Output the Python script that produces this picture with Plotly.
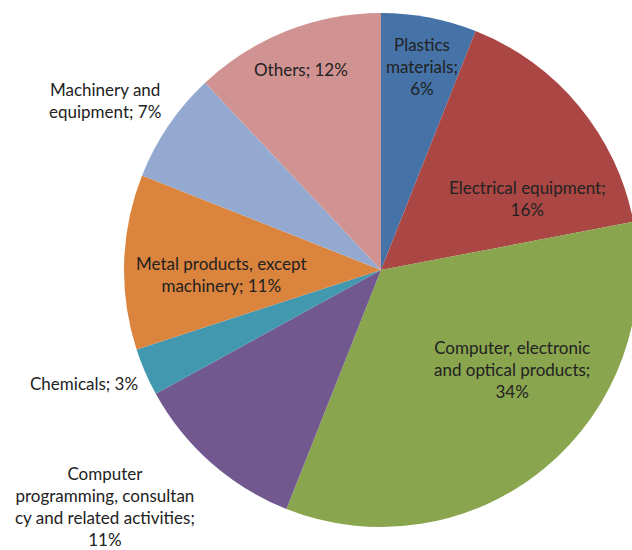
import plotly.graph_objects as go

# Sector shares (%), clockwise from 12 o'clock
sectors = [
    "Plastics materials",
    "Electrical equipment",
    "Computer, electronic and optical products",
    "Computer programming, consultancy and related activities",
    "Chemicals",
    "Metal products, except machinery",
    "Machinery and equipment",
    "Others",
]
shares = [6, 16, 34, 11, 3, 11, 7, 12]

# Wrapped label text and the separator before the percentage
wrapped_names = [
    "Plastics<br>materials",
    "Electrical equipment",
    "Computer, electronic<br>and optical products",
    "Computer<br>programming, consultan<br>cy and related activities",
    "Chemicals",
    "Metal products, except<br>machinery",
    "Machinery and<br>equipment",
    "Others",
]
pct_separators = ["<br>", "<br>", "<br>", "<br>", " ", " ", " ", " "]

colors = ["#4572A7", "#AA4643", "#89A54E", "#71588F",
          "#4198AF", "#DB843D", "#93A9CF", "#D19392"]

W, H = 644, 550

# Label centres in pixels (x from left, y from top)
label_px = [
    (422, 66), (527, 198), (512, 369), (105, 506),
    (84, 383), (221, 274), (105, 100), (301, 70),
]

fig = go.Figure(go.Pie(
    labels=sectors,
    values=shares,
    sort=False,
    direction="clockwise",
    rotation=0,
    marker=dict(colors=colors, line=dict(width=0)),
    textinfo="none",
    hoverinfo="label+percent",
    showlegend=False,
    domain=dict(x=[124 / W, 638 / W], y=[1 - 527 / H, 1 - 13 / H]),
))

annotations = []
for name, sep, val, (px, py) in zip(wrapped_names, pct_separators, shares, label_px):
    annotations.append(dict(
        text=f"{name};{sep}{val}%",
        x=px / W, y=1 - py / H,
        xref="paper", yref="paper",
        xanchor="center", yanchor="middle",
        showarrow=False,
        align="center",
        font=dict(family="Lato", size=17, color="#222222"),
    ))

fig.update_layout(
    width=W, height=H,
    margin=dict(l=0, r=0, t=0, b=0),
    paper_bgcolor="white",
    plot_bgcolor="white",
    annotations=annotations,
)

fig.write_html(
    "out.html",
    post_script="document.documentElement.style.overflow='hidden';document.body.style.overflow='hidden';",
)
